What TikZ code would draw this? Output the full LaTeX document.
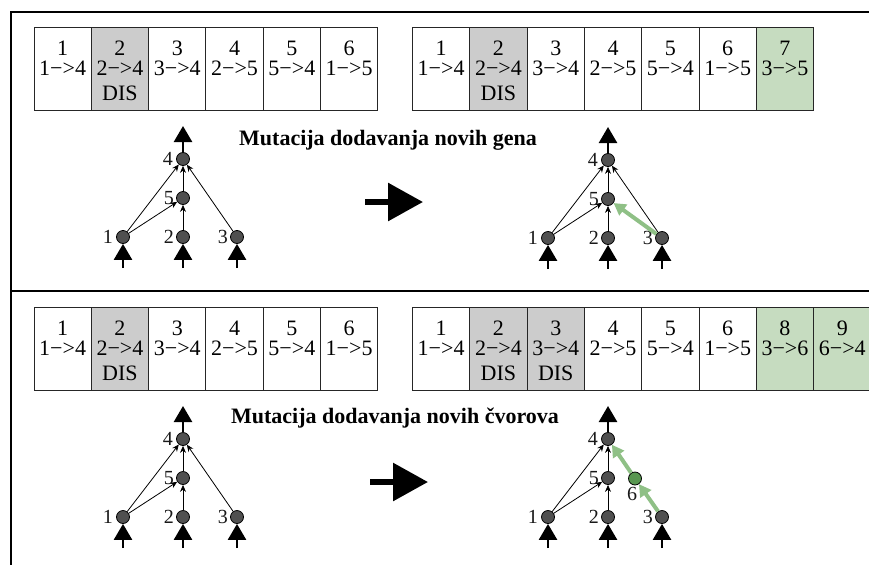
\documentclass[tikz,border=0pt]{standalone}
\usepackage{fontspec}
\setmainfont{Liberation Serif}
\usetikzlibrary{arrows.meta}

\definecolor{disgray}{RGB}{204,204,204}
\definecolor{newgene}{RGB}{198,220,192}
\definecolor{newlink}{RGB}{143,192,134}
\definecolor{newnode}{RGB}{88,150,80}
\definecolor{neurongray}{RGB}{80,80,80}

\tikzset{
  frame/.style={line width=2.4pt},
  genecell/.style={draw=black!85, line width=1pt, minimum width=57.3pt,
    minimum height=83pt, inner sep=0pt, anchor=north west},
  genetext/.style={font=\fontsize{22}{22}\selectfont, inner sep=0pt, anchor=base},
  heading/.style={font=\bfseries\fontsize{22}{22}\selectfont, inner sep=0pt},
  neuron/.style={circle, draw=black, line width=0.8pt, fill=neurongray,
    minimum size=13pt, inner sep=0pt},
  nlabel/.style={font=\fontsize{20}{20}\selectfont, text=black!90, inner sep=0pt},
  link/.style={line width=0.8pt, -{Stealth[length=7pt,width=6pt]}},
  greenlink/.style={draw=newlink, line width=4pt, -{Triangle[length=12pt,width=13pt]}},
  ioarrow/.style={line width=2.5pt, -{Triangle[length=16pt,width=18pt]}},
  bigarrow/.style={line width=6pt, -{Triangle[length=35pt,width=37pt]}},
}

% one row of genes: #1 name prefix, #2 left x, #3 top y, #4 list number/connection/fill
\newcommand{\genestrip}[4]{%
  \foreach \num/\arr/\fc [count=\k] in {#4} {
    \node[genecell, fill=\fc] (#1\k) at ({#2+(\k-1)*57.3}, #3) {};
    \node[genetext] at ([yshift=-28pt]#1\k.north) {\num};
    \node[genetext] at ([yshift=-48pt]#1\k.north) {\arr};
  }}

% the common part of a small network: #1 name prefix
\newcommand{\netbase}[1]{%
  \node[neuron, label={[nlabel,label distance=3pt]left:4}] (#1n4) at (183,159) {};
  \node[neuron, label={[nlabel,label distance=2pt]left:5}] (#1n5) at (183,198) {};
  \node[neuron, label={[nlabel,label distance=3pt]left:1}] (#1n1) at (123,237) {};
  \node[neuron, label={[nlabel,label distance=2pt]left:2}] (#1n2) at (183,237) {};
  \node[neuron, label={[nlabel,label distance=2pt]left:3}] (#1n3) at (237,237) {};
  \coordinate (#1o4) at (183,126);
  \coordinate (#1i1) at (123,268);
  \coordinate (#1i2) at (183,268);
  \coordinate (#1i3) at (237,268);
  \draw[ioarrow] (#1n4) -- (#1o4);
  \draw[ioarrow] (#1i1) -- (#1n1);
  \draw[ioarrow] (#1i2) -- (#1n2);
  \draw[ioarrow] (#1i3) -- (#1n3);
  \draw[link] (#1n1) -- (#1n4);
  \draw[link] (#1n1) -- (#1n5);
  \draw[link] (#1n2) -- (#1n5);
  \draw[link] (#1n5) -- (#1n4);
}

\begin{document}
\begin{tikzpicture}[x=1pt,y=-1pt]
\useasboundingbox (0,0) rectangle (869,565);

% frame
\draw[frame] (869,12) -- (11,12) -- (11,565);
\draw[frame] (11,291) -- (869,291);

% ---------- adding a connection ----------
\genestrip{ga}{33.5}{27}{1/1−>4/white, 2/2−>4/disgray, 3/3−>4/white,
  4/2−>5/white, 5/5−>4/white, 6/1−>5/white}
\node[genetext] at ([yshift=-73pt]ga2.north) {DIS};

\genestrip{gb}{412}{27}{1/1−>4/white, 2/2−>4/disgray, 3/3−>4/white,
  4/2−>5/white, 5/5−>4/white, 6/1−>5/white, 7/3−>5/newgene}
\node[genetext] at ([yshift=-73pt]gb2.north) {DIS};

\node[heading] (ha) at (388,140) {Mutacija dodavanja novih gena};

\begin{scope}
  \netbase{a}
  \draw[link] (an3) -- (an4);
\end{scope}

\coordinate (ma1) at (365,202);
\coordinate (ma2) at (423,202);
\draw[bigarrow] (ma1) -- (ma2);

\begin{scope}[shift={(425,1)}]
  \netbase{b}
  \draw[link] (bn3) -- (bn4);
  \draw[greenlink] (bn3) -- (bn5);
\end{scope}

% ---------- adding a node ----------
\genestrip{gc}{33.5}{307}{1/1−>4/white, 2/2−>4/disgray, 3/3−>4/white,
  4/2−>5/white, 5/5−>4/white, 6/1−>5/white}
\node[genetext] at ([yshift=-73pt]gc2.north) {DIS};

\genestrip{gd}{412}{307}{1/1−>4/white, 2/2−>4/disgray, 3/3−>4/disgray,
  4/2−>5/white, 5/5−>4/white, 6/1−>5/white, 8/3−>6/newgene, 9/6−>4/newgene}
\node[genetext] at ([yshift=-73pt]gd2.north) {DIS};
\node[genetext] at ([yshift=-73pt]gd3.north) {DIS};

\node[heading] (hb) at (395,418) {Mutacija dodavanja novih čvorova};

\begin{scope}[shift={(0,280)}]
  \netbase{c}
  \draw[link] (cn3) -- (cn4);
\end{scope}

\coordinate (mb1) at (370,482);
\coordinate (mb2) at (428,482);
\draw[bigarrow] (mb1) -- (mb2);

\begin{scope}[shift={(425,280)}]
  \netbase{d}
  \node[neuron, fill=newnode, label={[nlabel,label distance=2pt,xshift=-3pt]below:6}]
    (dn6) at (210,198.5) {};
  \draw[greenlink] (dn3) -- (dn6);
  \draw[greenlink] (dn6) -- (dn4);
\end{scope}

\end{tikzpicture}
\end{document}
